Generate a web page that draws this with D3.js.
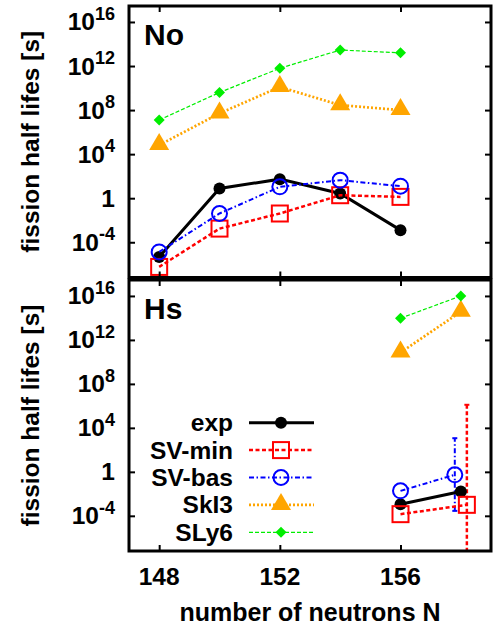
<!DOCTYPE html>
<html>
<head>
<meta charset="utf-8">
<script src="https://cdn.jsdelivr.net/npm/d3@7"></script>
<style>
body { margin: 0; background: #fff; }
text { font-family: "Liberation Sans", Arial, sans-serif; font-weight: bold; fill: #000; }
</style>
</head>
<body>
<svg id="chart" width="499" height="628"></svg>
<script>
// values are log10 of the fission half life in seconds
const noN = [148, 150, 152, 154, 156];
const noExp = [-5.33, 0.88, 1.73, 0.43, -2.9];
const noSvMin = [-6.24, -2.76, -1.39, 0.27, 0.12];
const noSvBas = [-4.88, -1.39, 1.03, 1.64, 1.09];
const noSkI3 = [4.82, 7.7, 10.1, 8.45, 8.0];
const noSLy6 = [7.1, 9.6, 11.8, 13.45, 13.2];

const hsN = [156, 158];
const hsSvMinN = [156, 158.2]; // shifted a little so the error bars do not overlap
const hsSvBasN = [156, 157.8];
const hsExp = [-2.94, -1.79];
const hsSvMin = [-3.85, -3.0];
const hsSvBas = [-1.73, -0.27];
const hsSkI3 = [10.85, 14.57];
const hsSLy6 = [13.97, 16.0];
const hsSvMinErr = [null, [-12, 6.1]];
const hsSvBasErr = [null, [-3.55, 3.06]];

const xTicks = [148, 152, 156];
const yTicks = [16, 12, 8, 4, 0, -4];
const legendNames = ["exp", "SV-min", "SV-bas", "SkI3", "SLy6"];

const svg = d3.select('#chart');
const left = 129, right = 491;
const fs = 24.5;

const x = d3.scaleLinear().domain([147, 159]).range([left, right]);

const styles = {
	exp:     {color: '#000000', width: 3,   dash: null,          sym: 'dot'},
	'SV-min':{color: '#ff0000', width: 2.5, dash: '4 2.5',       sym: 'square'},
	'SV-bas':{color: '#0000ff', width: 2,   dash: '5 2.5 1.5 2.5', sym: 'circle'},
	SkI3:    {color: '#ffa500', width: 2.7, dash: '2 2',         sym: 'triangle'},
	SLy6:    {color: '#00ee00', width: 1.2, dash: '4 2',         sym: 'diamond'}
};

function drawSymbol(g, sym, color, cx, cy){
	if(sym === 'dot'){
		g.append('circle').attr('cx', cx).attr('cy', cy).attr('r', 6).attr('fill', color);
	} else if(sym === 'square'){
		g.append('rect').attr('x', cx - 8).attr('y', cy - 8).attr('width', 16).attr('height', 16)
			.attr('fill', 'none').attr('stroke', color).attr('stroke-width', 2);
	} else if(sym === 'circle'){
		g.append('circle').attr('cx', cx).attr('cy', cy).attr('r', 7.5)
			.attr('fill', 'none').attr('stroke', color).attr('stroke-width', 2);
	} else if(sym === 'triangle'){
		g.append('path').attr('d', `M${cx},${cy-12}L${cx+10},${cy+5}L${cx-10},${cy+5}Z`).attr('fill', color);
	} else if(sym === 'diamond'){
		g.append('path').attr('d', `M${cx},${cy-5.5}L${cx+5.5},${cy}L${cx},${cy+5.5}L${cx-5.5},${cy}Z`).attr('fill', color);
	}
}

function panel(top, bottom, label, series, id){
	const y = d3.scaleLog().domain([Math.pow(10, -7.2), Math.pow(10, 17.45)]).range([bottom, top]);
	const g = svg.append('g');

	g.append('clipPath').attr('id', id).append('rect')
		.attr('x', left).attr('y', top).attr('width', right - left).attr('height', bottom - top);
	const plot = g.append('g').attr('clip-path', `url(#${id})`);

	// ticks, inward on all four sides
	const axL = d3.axisLeft(y).tickValues(yTicks.map(d => Math.pow(10, d))).tickSize(-6).tickFormat('');
	const axR = d3.axisRight(y).tickValues(yTicks.map(d => Math.pow(10, d))).tickSize(-6).tickFormat('');
	const axB = d3.axisBottom(x).tickValues(xTicks).tickSize(-6).tickFormat('');
	const axT = d3.axisTop(x).tickValues(xTicks).tickSize(-6).tickFormat('');
	[[axL, `translate(${left},0)`], [axR, `translate(${right},0)`],
	 [axB, `translate(0,${bottom})`], [axT, `translate(0,${top})`]].forEach(([ax, tr]) => {
		const a = g.append('g').attr('transform', tr).call(ax);
		a.select('.domain').remove();
		a.selectAll('line').attr('stroke', '#000').attr('stroke-width', 2);
	});

	// y tick labels
	yTicks.forEach(d => {
		const t = g.append('text').attr('x', 115).attr('y', y(Math.pow(10, d)) + 8.5)
			.attr('text-anchor', 'end').style('font-size', fs + 'px');
		if(d === 0){ t.text('1'); }
		else {
			t.append('tspan').text('10');
			t.append('tspan').attr('dy', -10.5).style('font-size', '18px').text(d);
		}
	});

	g.append('text')
		.attr('transform', `translate(39,${(top + bottom) / 2}) rotate(-90)`)
		.attr('text-anchor', 'middle').style('font-size', fs + 'px')
		.text('fission half lifes [s]');

	g.append('text').attr('x', 144).attr('y', top + 39).style('font-size', '30px').text(label);

	// error bars
	series.forEach(s => {
		if(!s.err) return;
		const st = styles[s.name];
		s.err.forEach((e, i) => {
			if(!e) return;
			const cx = x(s.n[i]);
			plot.append('line').attr('x1', cx).attr('x2', cx)
				.attr('y1', y(Math.pow(10, e[0]))).attr('y2', y(Math.pow(10, e[1])))
				.attr('stroke', st.color).attr('stroke-width', st.width).attr('stroke-dasharray', st.dash);
			[e[0], e[1]].forEach(v => {
				plot.append('line').attr('x1', cx - 2.5).attr('x2', cx + 2.5)
					.attr('y1', y(Math.pow(10, v))).attr('y2', y(Math.pow(10, v)))
					.attr('stroke', st.color).attr('stroke-width', 2);
			});
		});
	});

	// lines and points
	series.forEach(s => {
		const st = styles[s.name];
		const pts = s.v.map((v, i) => [x(s.n[i]), y(Math.pow(10, v))]);
		plot.append('path').attr('d', d3.line()(pts)).attr('fill', 'none')
			.attr('stroke', st.color).attr('stroke-width', st.width).attr('stroke-dasharray', st.dash);
		pts.forEach(p => drawSymbol(plot, st.sym, st.color, p[0], p[1]));
	});

	g.append('rect').attr('x', left).attr('y', top).attr('width', right - left).attr('height', bottom - top)
		.attr('fill', 'none').attr('stroke', '#000').attr('stroke-width', 3);

	return g;
}

panel(6, 277.5, 'No', [
	{name: 'exp', n: noN, v: noExp},
	{name: 'SV-min', n: noN, v: noSvMin},
	{name: 'SV-bas', n: noN, v: noSvBas},
	{name: 'SkI3', n: noN, v: noSkI3},
	{name: 'SLy6', n: noN, v: noSLy6}
], 'clipNo');

const hs = panel(280, 551, 'Hs', [
	{name: 'exp', n: hsN, v: hsExp},
	{name: 'SV-min', n: hsSvMinN, v: hsSvMin, err: hsSvMinErr},
	{name: 'SV-bas', n: hsSvBasN, v: hsSvBas, err: hsSvBasErr},
	{name: 'SkI3', n: hsN, v: hsSkI3},
	{name: 'SLy6', n: hsN, v: hsSLy6}
], 'clipHs');

// legend
const legend = hs.append('g');
legendNames.forEach((name, i) => {
	const st = styles[name];
	const ly = 422.7 + i * 27.4;
	legend.append('text').attr('x', 233).attr('y', ly + 8.5).attr('text-anchor', 'end')
		.style('font-size', fs + 'px').text(name);
	legend.append('line').attr('x1', 249).attr('x2', 314).attr('y1', ly).attr('y2', ly)
		.attr('stroke', st.color).attr('stroke-width', st.width).attr('stroke-dasharray', st.dash);
	drawSymbol(legend, st.sym, st.color, 281, ly);
});

// x axis labels
xTicks.forEach(d => {
	svg.append('text').attr('x', x(d)).attr('y', 585).attr('text-anchor', 'middle')
		.style('font-size', fs + 'px').text(d);
});
svg.append('text').attr('x', x(153)).attr('y', 621).attr('text-anchor', 'middle')
	.style('font-size', '25px').text('number of neutrons N');
</script>
</body>
</html>
